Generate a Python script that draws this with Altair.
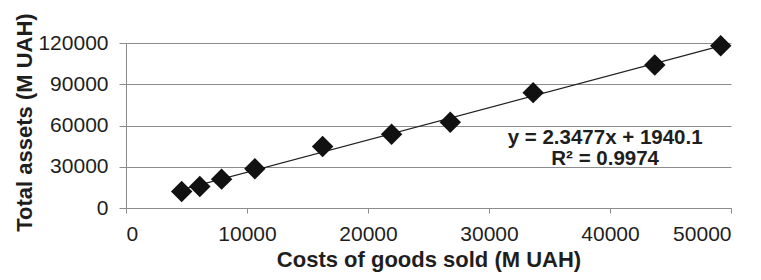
import altair as alt
import pandas as pd

# Data
cogs = [4600, 6100, 7900, 10650, 16250, 21950, 26800, 33650, 43700, 49150]
assets = [12000, 15700, 21000, 28500, 44700, 53700, 62400, 83900, 104000, 118000]

x_ticks = [0, 10000, 20000, 30000, 40000, 50000]
y_ticks = [0, 30000, 60000, 90000, 120000]

eq_text = ["y = 2.3477x + 1940.1", "R² = 0.9974"]
eq_x = [39600, 39600]
eq_y = [46300, 31200]

FONT = "Liberation Sans"
GRAY = "#8c8c8c"
TXT = "#1e1e1e"

df = pd.DataFrame({"cogs": cogs, "assets": assets})
eq_df = pd.DataFrame({"t": eq_text, "x": eq_x, "y": eq_y})

xscale = alt.Scale(domain=[0, 50000], nice=False, zero=True)
yscale = alt.Scale(domain=[0, 120000], nice=False, zero=True)

x_enc = alt.X(
    "cogs:Q",
    scale=xscale,
    axis=alt.Axis(
        values=x_ticks,
        format="d",
        grid=False,
        title="Costs of goods sold (M UAH)",
        tickSize=5,
        labelPadding=27,
        labelBaseline="alphabetic",
        titleY=58,
        titleBaseline="alphabetic",
    ),
)
y_enc = alt.Y(
    "assets:Q",
    scale=yscale,
    axis=alt.Axis(
        values=y_ticks,
        format="d",
        grid=True,
        title="Total assets (M UAH)",
        tickSize=7,
        labelPadding=11,
        titleX=-102,
        titleY=79,
        titleBaseline="middle",
    ),
)

base = alt.Chart(df)

trend = base.transform_regression("cogs", "assets").mark_line(
    color="#222222", strokeWidth=1.2
).encode(x=x_enc, y=y_enc)

points = base.mark_point(
    shape="diamond", filled=True, color="#111111", size=460, opacity=1
).encode(x=x_enc, y=y_enc)

eq = alt.Chart(eq_df).mark_text(
    font=FONT, fontSize=20.5, fontWeight="bold", color=TXT,
    align="center", baseline="alphabetic"
).encode(
    x=alt.X("x:Q", scale=xscale),
    y=alt.Y("y:Q", scale=yscale),
    text="t:N",
)

chart = alt.layer(trend, points, eq).properties(
    width=605,
    height=165,
    autosize=alt.AutoSizeParams(type="none"),
    padding={"left": 118, "top": 35, "right": 22, "bottom": 64},
).configure_axis(
    labelFont=FONT,
    labelFontSize=21,
    labelColor=TXT,
    titleFont=FONT,
    titleFontSize=22,
    titleFontWeight="bold",
    titleColor=TXT,
    gridColor=GRAY,
    gridWidth=1,
    domainColor=GRAY,
    domainWidth=1,
    tickColor=GRAY,
    tickWidth=1,
).configure_view(stroke=None)

chart.save("out.html", embed_options={"renderer": "svg", "actions": False})
